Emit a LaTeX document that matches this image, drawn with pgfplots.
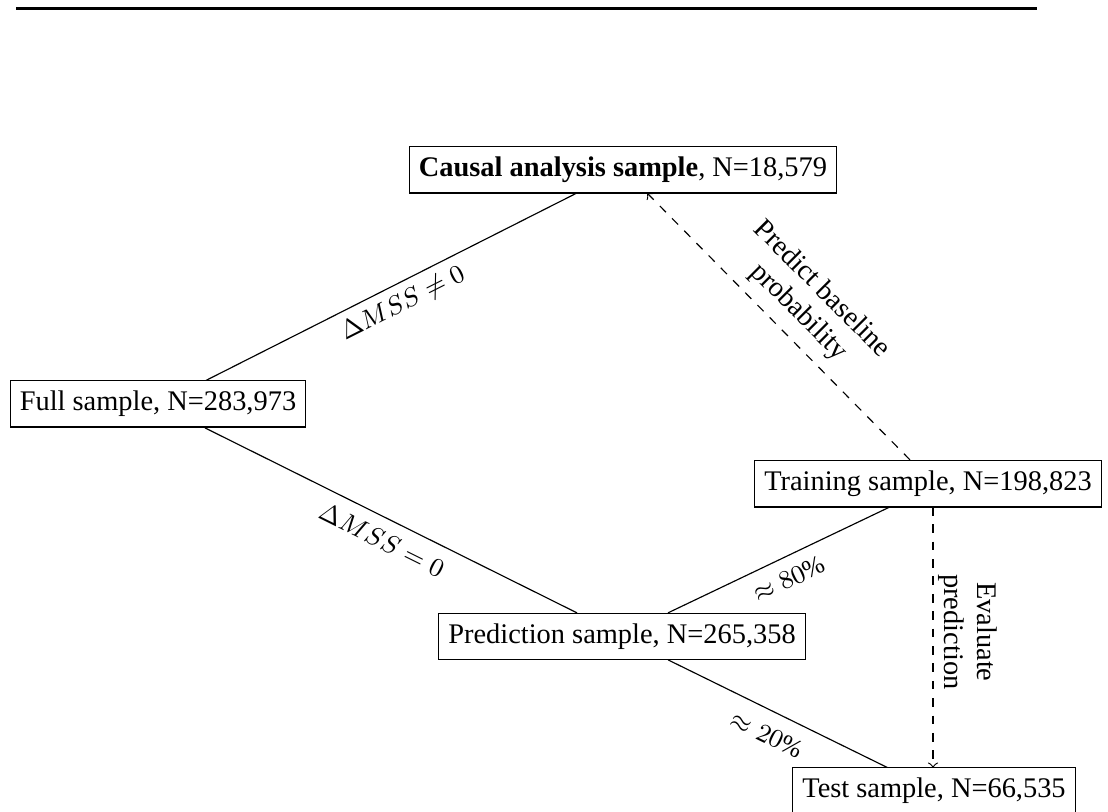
\documentclass[border=0pt]{standalone}
\usepackage{fontspec}
\setmainfont{Liberation Serif}
\usepackage{pgfplots}
\pgfplotsset{compat=1.18}
\begin{document}
\begin{tikzpicture}[
  box/.style={draw, fill=white, inner sep=3.3pt, minimum height=15.9pt, font=\fontsize{9.8}{11.5}\selectfont},
  lab/.style={font=\fontsize{8.9}{10.5}\selectfont},
  rlab/.style={font=\fontsize{9.8}{11.2}\selectfont, align=center},
]
\begin{axis}[
  name=ax,
  hide axis, scale only axis,
  width=382.3pt, height=280.1pt,
  xmin=0, xmax=1108, ymin=0, ymax=812,
  clip=true,
]
% top rule
\addplot[black, line width=1.1pt] coordinates {(16,803.5) (1037,803.5)};
% solid connectors
\addplot[black, thin] coordinates {(205,431) (577,619)};
\addplot[black, thin] coordinates {(205,384) (577,199)};
\addplot[black, thin] coordinates {(668,199) (890,305)};
\addplot[black, thin] coordinates {(668,152) (888,44)};
% dashed arrows
\addplot[black, thin, dashed, -to] coordinates {(910,352) (647,619)};
\addplot[black, thin, dashed, -to] coordinates {(933,305) (933,44)};
% boxes
\node[box] at (axis cs:623,642) {\textbf{Causal analysis sample}, N=18,579};
\node[box] at (axis cs:158,408) {Full sample, N=283,973};
\node[box] at (axis cs:928,328) {Training sample, N=198,823};
\node[box] at (axis cs:622,175) {Prediction sample, N=265,358};
\node[box] at (axis cs:934,21) {Test sample, N=66,535};
% labels
\node[lab, rotate=26.8] at (axis cs:403,508) {$\Delta MSS \neq 0$};
\node[lab, rotate=-26.4] at (axis cs:382,272) {$\Delta MSS = 0$};
\node[lab, rotate=25.5] at (axis cs:789,233) {$\approx 80\%$};
\node[lab, rotate=-26] at (axis cs:767,77) {$\approx 20\%$};
\node[rlab, rotate=-45] at (axis cs:810,511) {Predict baseline\\probability};
\node[rlab, rotate=-90] at (axis cs:968,180) {Evaluate\\prediction};
\end{axis}
\pgfresetboundingbox
\path[use as bounding box] (ax.south west) rectangle (ax.north east);
\end{tikzpicture}
\end{document}
